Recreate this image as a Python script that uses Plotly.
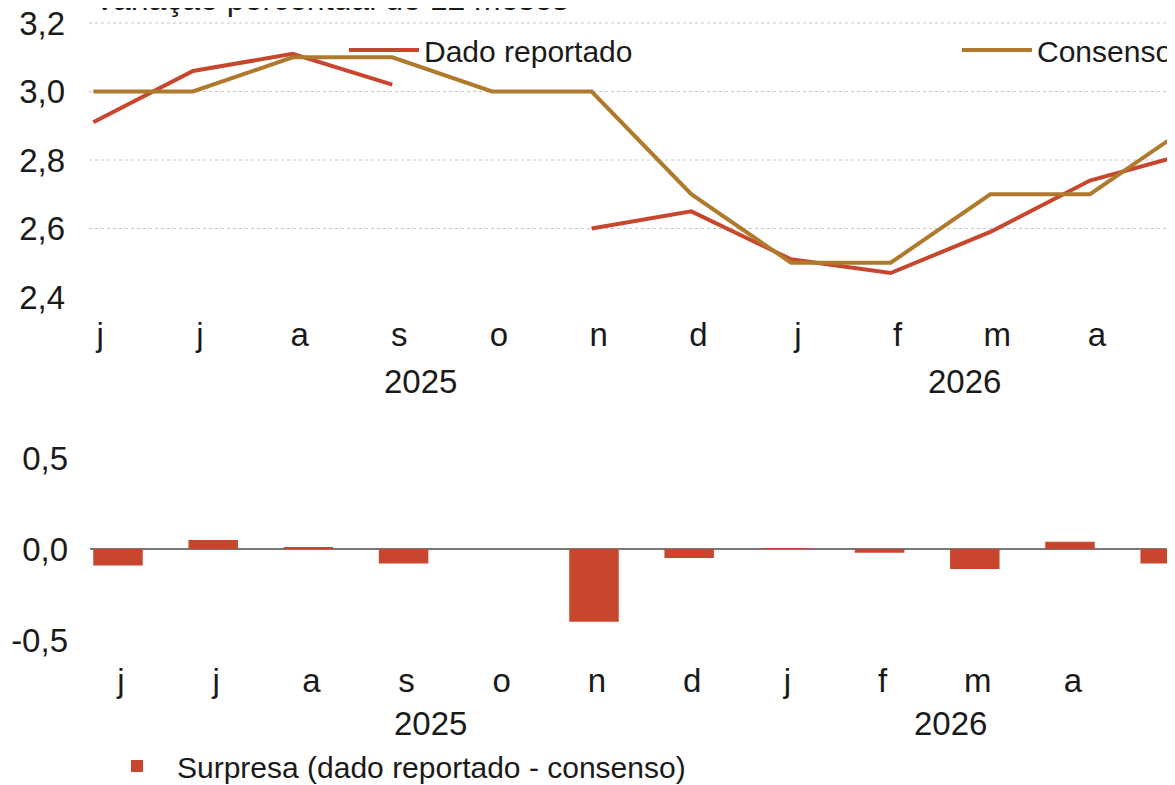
import plotly.graph_objects as go

# ---- data ----
months = ["j", "j", "a", "s", "o", "n", "d", "j", "f", "m", "a", "m"]
years = ["2025", "2026"]
reportado = [2.91, 3.06, 3.11, 3.02, None, 2.60, 2.65, 2.51, 2.47, 2.59, 2.74, 2.82]
consenso = [3.0, 3.0, 3.1, 3.1, 3.0, 3.0, 2.7, 2.5, 2.5, 2.7, 2.7, 2.9]
surpresa = [-0.09, 0.05, 0.01, -0.08, 0.0, -0.40, -0.05, 0.005, -0.02, -0.11, 0.04, -0.08]
top_ticks = [2.4, 2.6, 2.8, 3.0, 3.2]
top_ticktext = ["2,4", "2,6", "2,8", "3,0", "3,2"]
bot_ticks = [-0.5, 0.0, 0.5]
bot_ticktext = ["-0,5", "0,0", "0,5"]

idx = list(range(len(months)))
year_pos = [3.28, 8.74]  # label positions (index units)

# page body has an 8px margin; figure sized to end at the window edge
OFF = 8
W, H = 1175 - OFF, 785 - OFF
RED = "#C8462E"
GOLD = "#B07A2C"
FONT = "Liberation Sans, Arial, sans-serif"
TXT = "#1a1a1a"

fig = go.Figure()
fig.add_trace(go.Scatter(x=idx, y=reportado, mode="lines", name="Dado reportado",
                         line=dict(color=RED, width=4), legend="legend",
                         xaxis="x", yaxis="y"))
fig.add_trace(go.Scatter(x=idx, y=consenso, mode="lines", name="Consenso",
                         line=dict(color=GOLD, width=4), legend="legend3",
                         xaxis="x", yaxis="y"))
fig.add_trace(go.Bar(x=idx, y=surpresa, name="Surpresa (dado reportado - consenso)",
                     marker=dict(color=RED, line=dict(width=0)), width=0.52,
                     legend="legend2", xaxis="x2", yaxis="y2"))

def px_x(p):
    return (p - OFF) / W

def px_y(p):
    return 1 - (p - OFF) / H

tickfont = dict(family=FONT, size=33, color=TXT)
legfont = dict(family=FONT, size=30, color=TXT)

# top panel: 2.4 at screen y=297, 3.2 at screen y=23 (342.5 px per unit)
TOP_PX = 12
top_range_max = 3.2 + (23 - TOP_PX) / 342.5

fig.update_layout(
    width=W, height=H,
    margin=dict(l=0, r=0, t=0, b=0, autoexpand=False),
    paper_bgcolor="white", plot_bgcolor="white",
    separators=",.",
    font=dict(family=FONT, color=TXT),
    xaxis=dict(domain=[px_x(89), 1], range=[-0.043, 10.853], anchor="y",
               tickmode="array", tickvals=idx, ticktext=months,
               showgrid=False, zeroline=False, showline=False, ticks="",
               tickfont=tickfont, ticklabelshift=7, ticklabelstandoff=15,
               automargin=False),
    yaxis=dict(domain=[px_y(297), px_y(TOP_PX)], range=[2.4, top_range_max], anchor="x",
               tickmode="array", tickvals=top_ticks, ticktext=top_ticktext,
               showgrid=False, zeroline=False, showline=False, ticks="",
               tickfont=tickfont, ticklabelstandoff=23, automargin=False,
               ticklabeloverflow="allow"),
    xaxis2=dict(domain=[px_x(90), 1], range=[-0.294, 11.103], anchor="y2",
                tickmode="array", tickvals=idx, ticktext=months,
                showgrid=False, zeroline=False, showline=False, ticks="",
                tickfont=tickfont, ticklabelshift=3, ticklabelstandoff=18,
                automargin=False),
    yaxis2=dict(domain=[px_y(640), px_y(458)], range=[-0.5, 0.5], anchor="x2",
                tickmode="array", tickvals=bot_ticks, ticktext=bot_ticktext,
                showgrid=False, zeroline=True, zerolinecolor="#777777", zerolinewidth=2,
                showline=False, ticks="", tickfont=tickfont, ticklabelstandoff=21,
                automargin=False, ticklabeloverflow="allow"),
    legend=dict(x=px_x(344), y=px_y(50), xanchor="left", yanchor="middle",
                font=legfont, itemwidth=70, bgcolor="rgba(0,0,0,0)"),
    legend3=dict(x=px_x(957), y=px_y(50), xanchor="left", yanchor="middle",
                 font=legfont, itemwidth=70, bgcolor="rgba(0,0,0,0)"),
    legend2=dict(x=px_x(97), y=px_y(766), xanchor="left", yanchor="middle",
                 font=legfont, itemwidth=70, bgcolor="rgba(0,0,0,0)"),
    showlegend=True,
)

# dotted horizontal gridlines of the top panel (above its bottom edge)
for gv in top_ticks[1:]:
    fig.add_shape(type="line", xref="x domain", yref="y", x0=0, x1=1, y0=gv, y1=gv,
                  layer="below", line=dict(color="#c8c8c8", width=1, dash="dot"))

# year labels
for yr, pos in zip(years, year_pos):
    fig.add_annotation(text=yr, x=pos, xref="x", y=px_y(381), yref="paper",
                       showarrow=False, yanchor="middle",
                       font=dict(family=FONT, size=33, color=TXT))
    fig.add_annotation(text=yr, x=pos, xref="x2", y=px_y(723), yref="paper",
                       showarrow=False, yanchor="middle",
                       font=dict(family=FONT, size=33, color=TXT))

fig.add_annotation(text="Variação percentual de 12 meses", x=px_x(92), xref="paper",
                   xanchor="left", y=px_y(-1), yref="paper", yanchor="middle",
                   showarrow=False, font=dict(family=FONT, size=32, color=TXT))

fig.write_html("out.html")
